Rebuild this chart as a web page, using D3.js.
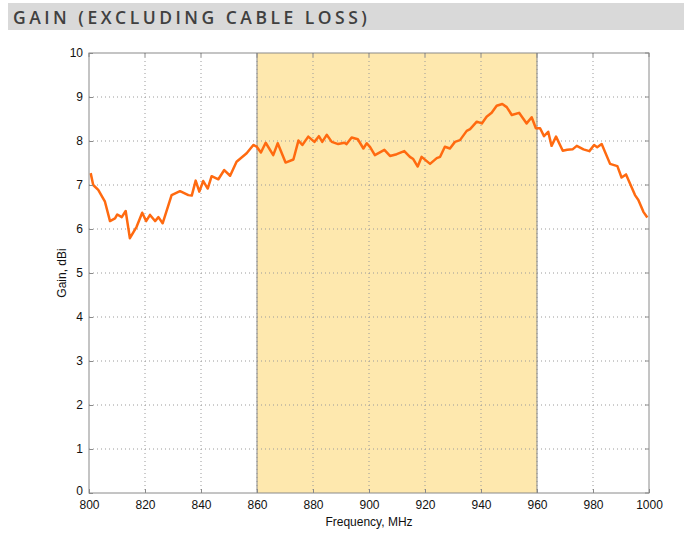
<!DOCTYPE html>
<html>
<head>
<meta charset="utf-8">
<script src="https://cdn.jsdelivr.net/npm/d3@7"></script>
<style>
  body { margin: 0; background: #fff; }
  svg { display: block; }
</style>
</head>
<body>
<div id="chart"></div>
<script>
const freqs = [800.6, 801.5, 803.3, 805.7, 807.5, 809.3, 810.1, 811.7, 813.1, 814.6, 817, 819, 820.4, 821.8,
  823.6, 824.8, 826.3, 829.5, 832.5, 835.5, 836.7, 838.1, 839.4, 840.8, 842.4, 843.8, 846.2, 848.3, 850.4,
  852.7, 856.3, 858.7, 859.9, 861.4, 863.1, 865.8, 867.4, 870.2, 873, 874.8, 876.2, 878.3, 880.5, 882.1,
  883.3, 884.9, 886.7, 889, 891.2, 892, 893.8, 896, 898, 899.2, 900.4, 902.1, 905.5, 907.5, 909.9, 912.6,
  914.6, 915.8, 917.4, 918.8, 921.8, 924.2, 925.4, 927.1, 928.9, 930.7, 932.5, 934.9, 936.1, 938.5, 940.3,
  942, 943.8, 945.6, 947.6, 949.2, 951, 953.6, 956.3, 958.1, 959.6, 961.1, 962.5, 964, 965.2, 966.8, 969.2,
  970.8, 972.7, 974.2, 976.6, 978.7, 980.4, 981.5, 983.1, 986.1, 988.7, 990.2, 991.8, 995, 996.2, 998, 999.4];
const gains = [7.27, 7.0, 6.89, 6.62, 6.18, 6.24, 6.33, 6.27, 6.41, 5.79, 6.05, 6.37, 6.18, 6.32,
  6.18, 6.27, 6.13, 6.77, 6.86, 6.77, 6.76, 7.1, 6.85, 7.09, 6.92, 7.2, 7.13, 7.34, 7.21,
  7.53, 7.72, 7.91, 7.87, 7.74, 7.96, 7.68, 7.95, 7.51, 7.58, 8.01, 7.91, 8.1, 7.98, 8.11,
  7.98, 8.14, 7.98, 7.93, 7.96, 7.93, 8.08, 8.04, 7.83, 7.95, 7.86, 7.68, 7.8, 7.66, 7.7, 7.77,
  7.64, 7.59, 7.42, 7.64, 7.48, 7.61, 7.64, 7.87, 7.83, 7.98, 8.02, 8.23, 8.27, 8.44, 8.4,
  8.55, 8.64, 8.8, 8.84, 8.77, 8.59, 8.64, 8.4, 8.54, 8.29, 8.29, 8.11, 8.21, 7.89, 8.1, 7.78,
  7.8, 7.81, 7.89, 7.81, 7.77, 7.91, 7.86, 7.93, 7.48, 7.43, 7.17, 7.24, 6.77, 6.66, 6.39, 6.26];

const xTicks = [800, 820, 840, 860, 880, 900, 920, 940, 960, 980, 1000];
const yTicks = [0, 1, 2, 3, 4, 5, 6, 7, 8, 9, 10];
const band = [860, 960];

const title = "GAIN (EXCLUDING CABLE LOSS)";
const xLabel = "Frequency, MHz";
const yLabel = "Gain, dBi";

const width = 684, height = 534;
const margin = { top: 53, right: 35, bottom: 41, left: 89 };

const svg = d3.select("#chart").append("svg")
  .attr("width", width)
  .attr("height", height);

// title bar
svg.append("rect")
  .attr("x", 8).attr("y", 3)
  .attr("width", width - 8).attr("height", 27)
  .attr("fill", "#d9d9d9");

svg.append("text")
  .attr("x", 13).attr("y", 24)
  .attr("font-family", "'Open Sans', sans-serif")
  .attr("font-weight", 600)
  .attr("font-size", 17.5)
  .attr("letter-spacing", 3.5)
  .attr("fill", "#404040")
  .text(title);

const x = d3.scaleLinear().domain([800, 1000]).range([margin.left, width - margin.right]);
const y = d3.scaleLinear().domain([0, 10]).range([height - margin.bottom, margin.top]);

const x0 = x.range()[0], x1 = x.range()[1], y0 = y.range()[0], y1 = y.range()[1];

// plot background
svg.append("rect")
  .attr("x", x0).attr("y", y1)
  .attr("width", x1 - x0).attr("height", y0 - y1)
  .attr("fill", "#fff");

// highlighted band
svg.append("rect")
  .attr("x", x(band[0])).attr("y", y1)
  .attr("width", x(band[1]) - x(band[0])).attr("height", y0 - y1)
  .attr("fill", "#fee8ae");

// grid
svg.selectAll(".vgrid")
  .data(xTicks.slice(1, -1))
  .join("line")
  .attr("class", "vgrid")
  .attr("x1", d => x(d)).attr("x2", d => x(d))
  .attr("y1", y1).attr("y2", y0)
  .attr("stroke", "#9a9a9a")
  .attr("stroke-width", 1)
  .attr("stroke-dasharray", "1,3");

svg.selectAll(".hgrid")
  .data(yTicks.slice(1, -1))
  .join("line")
  .attr("class", "hgrid")
  .attr("x1", x0).attr("x2", x1)
  .attr("y1", d => y(d)).attr("y2", d => y(d))
  .attr("stroke", "#9a9a9a")
  .attr("stroke-width", 1)
  .attr("stroke-dasharray", "1,3");

// band edges
svg.selectAll(".edge")
  .data(band)
  .join("line")
  .attr("class", "edge")
  .attr("x1", d => x(d)).attr("x2", d => x(d))
  .attr("y1", y1).attr("y2", y0)
  .attr("stroke", "#8a8a8a")
  .attr("stroke-width", 1);

// curve
const line = d3.line()
  .x((d, i) => x(freqs[i]))
  .y(d => y(d));

svg.append("path")
  .datum(gains)
  .attr("fill", "none")
  .attr("stroke", "#ff6a10")
  .attr("stroke-width", 2.5)
  .attr("stroke-linejoin", "round")
  .attr("d", line);

// axes box
svg.append("rect")
  .attr("x", x0).attr("y", y1)
  .attr("width", x1 - x0).attr("height", y0 - y1)
  .attr("fill", "none")
  .attr("stroke", "#8a8a8a")
  .attr("stroke-width", 1);

const font = "'Liberation Sans', Arial, sans-serif";

const xAxis = svg.append("g")
  .attr("transform", `translate(0, ${y0})`)
  .call(d3.axisBottom(x).tickValues(xTicks).tickSize(-4).tickPadding(7).tickFormat(d3.format("d")));
xAxis.selectAll("text").attr("font-family", font).attr("font-size", 12).attr("fill", "#111");

const yAxis = svg.append("g")
  .attr("transform", `translate(${x0}, 0)`)
  .call(d3.axisLeft(y).tickValues(yTicks).tickSize(-4).tickPadding(6).tickFormat(d3.format("d")));
yAxis.selectAll("text").attr("font-family", font).attr("font-size", 12).attr("fill", "#111");
yAxis.selectAll(".tick").filter(d => d === 0).select("text").attr("dy", "0.1em");

svg.selectAll(".domain").remove();
svg.selectAll(".tick line").attr("stroke", "#8a8a8a");

// right side ticks
svg.selectAll(".rtick")
  .data(yTicks)
  .join("line")
  .attr("class", "rtick")
  .attr("x1", x1 - 4).attr("x2", x1)
  .attr("y1", d => y(d)).attr("y2", d => y(d))
  .attr("stroke", "#8a8a8a");

svg.selectAll(".ttick")
  .data(xTicks)
  .join("line")
  .attr("class", "ttick")
  .attr("x1", d => x(d)).attr("x2", d => x(d))
  .attr("y1", y1).attr("y2", y1 + 4)
  .attr("stroke", "#8a8a8a");

svg.append("text")
  .attr("x", (x0 + x1) / 2).attr("y", y0 + 33)
  .attr("text-anchor", "middle")
  .attr("font-family", font).attr("font-size", 12)
  .attr("fill", "#111")
  .text(xLabel);

svg.append("text")
  .attr("transform", `translate(${x0 - 23}, ${(y0 + y1) / 2}) rotate(-90)`)
  .attr("text-anchor", "middle")
  .attr("font-family", font).attr("font-size", 12)
  .attr("fill", "#111")
  .text(yLabel);
</script>
</body>
</html>
